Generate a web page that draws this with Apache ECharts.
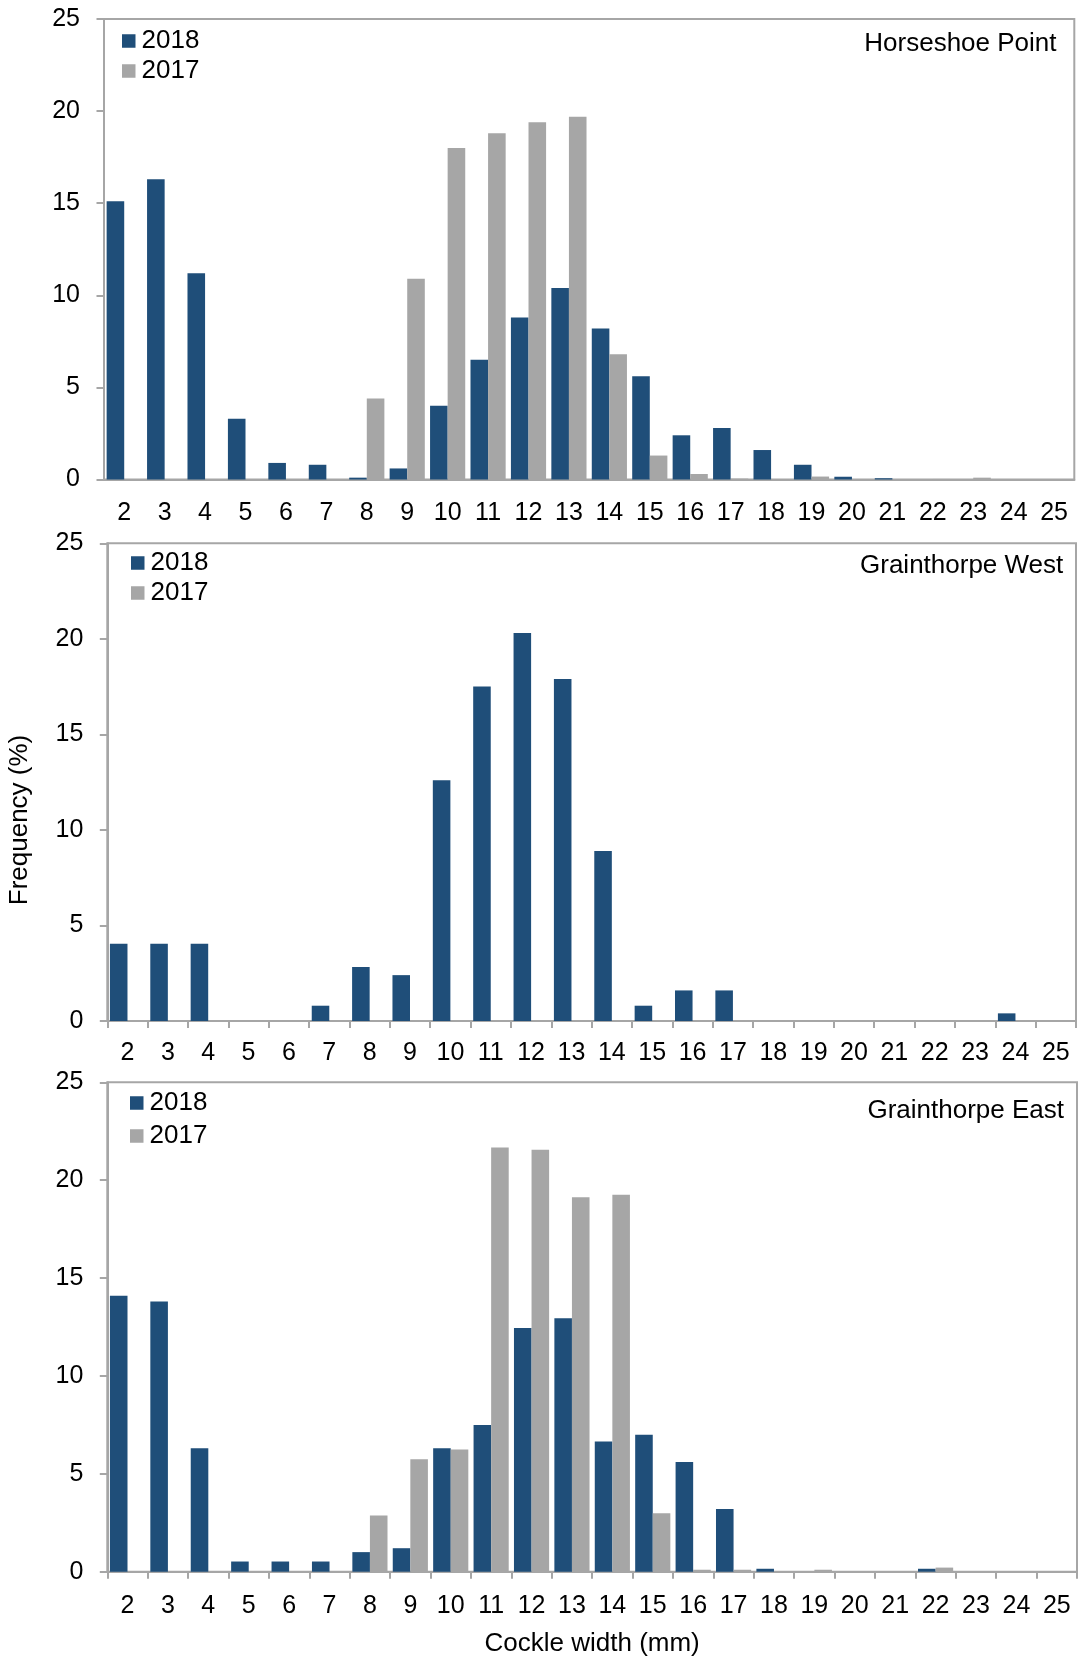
<!DOCTYPE html>
<html>
<head>
<meta charset="utf-8">
<script src="https://cdn.jsdelivr.net/npm/echarts@6/dist/echarts.min.js"></script>
<style>
html,body{margin:0;padding:0;background:#fff;}
#chart{width:1078px;height:1658px;}
</style>
</head>
<body>
<div id="chart"></div>
<script>
const categories = ['2','3','4','5','6','7','8','9','10','11','12','13','14','15','16','17','18','19','20','21','22','23','24','25'];
const panelTitles = ['Horseshoe Point', 'Grainthorpe West', 'Grainthorpe East'];
const seriesNames = ['2018', '2017'];
const yTicks = { min: 0, max: 25, interval: 5 };
const xAxisTitle = 'Cockle width (mm)';
const yAxisTitle = 'Frequency (%)';

const hp2018 = [15.1, 16.3, 11.2, 3.3, 0.9, 0.8, 0.1, 0.6, 4.0, 6.5, 8.8, 10.4, 8.2, 5.6, 2.4, 2.8, 1.6, 0.8, 0.15, 0.07, 0, 0, 0, 0];
const hp2017 = [0, 0, 0, 0, 0, 0, 4.4, 10.9, 18.0, 18.8, 19.4, 19.7, 6.8, 1.3, 0.3, 0.05, 0.02, 0.16, 0, 0, 0.03, 0.1, 0, 0];
const gw2018 = [4.04, 4.04, 4.04, 0, 0, 0.8, 2.83, 2.4, 12.6, 17.5, 20.3, 17.9, 8.9, 0.8, 1.6, 1.6, 0, 0, 0, 0, 0, 0, 0.4, 0];
const gw2017 = [null, null, null, null, null, null, null, null, null, null, null, null, null, null, null, null, null, null, null, null, null, null, null, null];
const ge2018 = [14.1, 13.8, 6.3, 0.52, 0.52, 0.52, 1.0, 1.2, 6.3, 7.5, 12.45, 12.95, 6.65, 7.0, 5.6, 3.2, 0.15, 0, 0, 0, 0.15, 0, 0, 0];
const ge2017 = [0, 0, 0, 0, 0, 0, 2.87, 5.74, 6.24, 21.67, 21.56, 19.13, 19.26, 2.98, 0.1, 0.1, 0, 0.1, 0, 0, 0.21, 0, 0, 0];

const FONT = "'Liberation Sans', Arial, sans-serif";
const BLUE = '#1F4E79';
const GRAY = '#A6A6A6';
const LINE = '#A6A6A6';

const grids = [
  { left: 104, right: 3.7, top: 19, height: 460.5 },
  { left: 107.3, right: 2, top: 543.3, height: 477.7 },
  { left: 107.3, right: 1, top: 1082.3, height: 489.4 }
];
const labelMargins = [21, 20, 22];
const legendPos = [
  { left: 122, top: 26, lh: 30 },
  { left: 131, top: 548, lh: 30 },
  { left: 130, top: 1086.5, lh: 33 }
];
const titlePos = [
  { right: 21.5, top: 31 },
  { right: 14.7, top: 552.5 },
  { right: 14, top: 1098 }
];
const dataSets = [[hp2018, hp2017], [gw2018, gw2017], [ge2018, ge2017]];

const option = {
  animation: false,
  backgroundColor: '#fff',
  textStyle: { fontFamily: FONT },
  title: panelTitles.map((t, i) => ({
    text: t,
    right: titlePos[i].right,
    top: titlePos[i].top,
    padding: 0,
    textStyle: { fontFamily: FONT, fontSize: 26, fontWeight: 'normal', color: '#000', lineHeight: 26 }
  })),
  legend: legendPos.map(p => ({
    data: seriesNames,
    orient: 'vertical',
    left: p.left,
    top: p.top,
    padding: 0,
    itemGap: 0,
    itemWidth: 13.5,
    itemHeight: 13.5,
    icon: 'rect',
    selectedMode: false,
    textStyle: { fontFamily: FONT, fontSize: 26, color: '#000', lineHeight: p.lh, padding: [0, 0, 0, 1] }
  })),
  grid: grids.map(g => Object.assign({
    show: true,
    borderColor: LINE,
    borderWidth: 2,
    backgroundColor: 'transparent',
    containLabel: false,
    outerBoundsMode: 'none'
  }, g)),
  xAxis: grids.map((g, i) => ({
    type: 'category',
    gridIndex: i,
    data: categories,
    boundaryGap: true,
    name: i === 2 ? xAxisTitle : '',
    nameLocation: 'middle',
    nameGap: 59,
    nameTextStyle: { fontFamily: FONT, fontSize: 26, color: '#000' },
    axisLine: { show: true, lineStyle: { color: LINE, width: 2 } },
    axisTick: { show: i !== 0, inside: false, length: 7, alignWithLabel: false, lineStyle: { color: LINE, width: 2 } },
    axisLabel: { interval: 0, margin: labelMargins[i], fontFamily: FONT, fontSize: 25, color: '#000' },
    splitLine: { show: false }
  })),
  yAxis: grids.map((g, i) => ({
    type: 'value',
    gridIndex: i,
    min: yTicks.min,
    max: yTicks.max,
    interval: yTicks.interval,
    axisLine: { show: true, lineStyle: { color: LINE, width: 2 } },
    axisTick: { show: true, inside: false, length: 7.5, lineStyle: { color: LINE, width: 2 } },
    axisLabel: { margin: 24, fontFamily: FONT, fontSize: 25, color: '#000' },
    splitLine: { show: false }
  })),
  graphic: [{
    type: 'text',
    x: 20,
    y: 820,
    rotation: Math.PI / 2,
    style: {
      text: yAxisTitle,
      font: "26px 'Liberation Sans', Arial, sans-serif",
      fill: '#000',
      textAlign: 'center',
      textVerticalAlign: 'middle'
    }
  }],
  series: []
};

dataSets.forEach((pair, i) => {
  pair.forEach((arr, j) => {
    option.series.push({
      type: 'bar',
      name: seriesNames[j],
      xAxisIndex: i,
      yAxisIndex: i,
      data: arr,
      barGap: '0%',
      barCategoryGap: '13%',
      itemStyle: { color: j === 0 ? BLUE : GRAY },
      emphasis: { disabled: true }
    });
  });
});

const chart = echarts.init(document.getElementById('chart'), null, { renderer: 'canvas' });
chart.setOption(option);
</script>
</body>
</html>
